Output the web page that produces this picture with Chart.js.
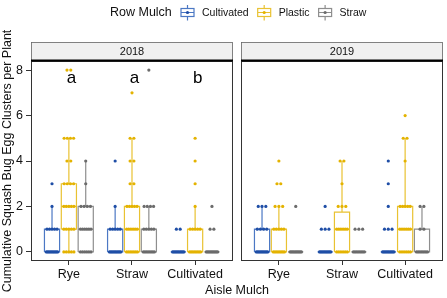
<!DOCTYPE html>
<html>
<head>
<meta charset="utf-8">
<script src="https://cdn.jsdelivr.net/npm/chart.js@4.4.1/dist/chart.umd.min.js"></script>
<style>
  html, body { margin: 0; padding: 0; background: #fff; }
</style>
</head>
<body>
<canvas id="chart" width="447" height="298"></canvas>
<script>
const years = ['2018', '2019'];
const aisleMulch = ['Rye', 'Straw', 'Cultivated'];
const rowMulch = ['Cultivated', 'Plastic', 'Straw'];
const yTicks = [0, 2, 4, 6, 8];
const letters2018 = ['a', 'a', 'b'];

// box stats [lower whisker, q1, median, q3, upper whisker]
// rows: aisle mulch, cols: row mulch
const box2018 = [
  [[0, 0, 0, 1, 2], [0, 1, 2, 3, 5], [0, 0, 1, 2, 4]],
  [[0, 0, 0, 1, 2], [0, 0, 1, 2, 5], [0, 0, 0, 1, 2]],
  [[0, 0, 0, 0, 0], [0, 0, 0, 1, 2], [0, 0, 0, 0, 0]]
];
const box2019 = [
  [[0, 0, 0, 1, 2], [0, 0, 0, 1, 2], [0, 0, 0, 0, 0]],
  [[0, 0, 0, 0, 0], [0, 0, 1, 1.75, 4], [0, 0, 0, 0, 0]],
  [[0, 0, 0, 0, 0], [0, 0, 1, 2, 5], [0, 0, 0, 1, 2]]
];

// number of plants at each egg cluster count (index = count 0..8)
const pts2018 = [
  [[10, 5, 1, 1], [5, 5, 5, 4, 2, 4, 0, 0, 2], [6, 6, 4, 1, 1]],
  [[10, 5, 1, 0, 1], [7, 6, 5, 2, 2, 2, 0, 1], [8, 5, 4, 0, 0, 0, 0, 0, 1]],
  [[10, 2], [8, 5, 1, 1, 1, 1], [10, 2, 1]]
];
const pts2019 = [
  [[10, 4, 3], [8, 5, 3, 2, 1], [10, 0, 1]],
  [[10, 3, 1], [6, 6, 3, 1, 2], [8, 3]],
  [[10, 3, 1, 1, 1], [6, 6, 5, 0, 1, 2, 1], [8, 2, 2]]
];

const boxes = [box2018, box2019];
const points = [pts2018, pts2019];
const boxColors = ['#4C78C4', '#E9C232', '#8E8E8E'];
const pointColors = ['#1F4EA6', '#E4B300', '#6B6B6B'];

// facet layout on one linear x axis (ggplot discrete expand of 0.6)
const panelStart = [0.4, 3.727];
const panelWidth = 3.2;
const dodge = 0.267;
const halfBox = 0.12;
const catCenter = (p, i) => panelStart[p] + 0.6 + i;
const tickPos = [];
years.forEach((y, p) => aisleMulch.forEach((c, i) => tickPos.push(catCenter(p, i))));

Chart.defaults.font.family = "'Liberation Sans', Arial, sans-serif";
Chart.defaults.color = '#111';

const datasets = [];
rowMulch.forEach((rm, j) => {
  const boxData = [];
  const ptData = [];
  years.forEach((yr, p) => {
    aisleMulch.forEach((am, i) => {
      const cx = catCenter(p, i) + (j - 1) * dodge;
      const [lo, q1, md, q3, hi] = boxes[p][i][j];
      const gap = {x: cx, y: null};
      boxData.push({x: cx - halfBox, y: q1}, {x: cx + halfBox, y: q1}, {x: cx + halfBox, y: q3},
                   {x: cx - halfBox, y: q3}, {x: cx - halfBox, y: q1}, gap);
      boxData.push({x: cx - halfBox, y: md}, {x: cx + halfBox, y: md}, gap);
      if (hi > q3) boxData.push({x: cx, y: q3}, {x: cx, y: hi}, gap);
      if (lo < q1) boxData.push({x: cx, y: lo}, {x: cx, y: q1}, gap);
      points[p][i][j].forEach((n, v) => {
        const step = Math.min(0.06, 0.2 / n);
        for (let k = 0; k < n; k++) {
          ptData.push({x: cx + (k - (n - 1) / 2) * step, y: v});
        }
      });
    });
  });
  datasets.push({
    label: rm + ' box',
    data: boxData,
    showLine: true,
    spanGaps: false,
    borderColor: boxColors[j],
    borderWidth: 1.2,
    borderJoinStyle: 'miter',
    pointRadius: 0,
    order: 2
  });
  datasets.push({
    label: rm,
    data: ptData,
    pointRadius: 1.6,
    pointBorderWidth: 0,
    pointBackgroundColor: pointColors[j],
    order: 1
  });
});

const facetPlugin = {
  id: 'facets',
  afterDatasetsDraw(chart) {
    const {ctx, chartArea, scales} = chart;
    const x = scales.x, y = scales.y;
    ctx.save();
    years.forEach((yr, p) => {
      const l = x.getPixelForValue(panelStart[p]);
      const r = x.getPixelForValue(panelStart[p] + panelWidth);
      // panel border
      ctx.strokeStyle = '#333';
      ctx.lineWidth = 1;
      ctx.strokeRect(l + 0.5, chartArea.top + 0.5, r - l - 1, chartArea.bottom - chartArea.top - 1);
      // strip
      ctx.fillStyle = '#F0F0F0';
      ctx.fillRect(l, 42, r - l, 18);
      ctx.strokeStyle = '#666';
      ctx.lineWidth = 0.8;
      ctx.strokeRect(l + 0.5, 42.5, r - l - 1, 18);
      ctx.fillStyle = '#000';
      ctx.fillRect(l, chartArea.top - 1.5, r - l, 2);
      ctx.fillStyle = '#111';
      ctx.font = "11px 'Liberation Sans', Arial, sans-serif";
      ctx.textAlign = 'center';
      ctx.textBaseline = 'middle';
      ctx.fillText(yr, (l + r) / 2, 51.5);
    });
    // significance letters (2018 panel)
    ctx.font = "17px 'Liberation Sans', Arial, sans-serif";
    ctx.fillStyle = '#000';
    ctx.textAlign = 'center';
    ctx.textBaseline = 'alphabetic';
    letters2018.forEach((t, i) => {
      ctx.fillText(t, x.getPixelForValue(catCenter(0, i) + 0.04), y.getPixelForValue(7.45));
    });
    // legend
    ctx.font = "12.5px 'Liberation Sans', Arial, sans-serif";
    ctx.textAlign = 'left';
    ctx.textBaseline = 'middle';
    ctx.fillStyle = '#111';
    ctx.fillText('Row Mulch', 110, 13);
    ctx.font = "10.5px 'Liberation Sans', Arial, sans-serif";
    let lx = 180;
    rowMulch.forEach((rm, j) => {
      const c = lx + 7.5;
      ctx.strokeStyle = boxColors[j];
      ctx.lineWidth = 1.2;
      ctx.beginPath();
      ctx.moveTo(c, 5); ctx.lineTo(c, 8.5);
      ctx.moveTo(c, 16.5); ctx.lineTo(c, 20.5);
      ctx.moveTo(lx + 1, 12.5); ctx.lineTo(lx + 14, 12.5);
      ctx.stroke();
      ctx.strokeRect(lx + 1, 8.5, 13, 8);
      ctx.fillStyle = pointColors[j];
      ctx.beginPath();
      ctx.arc(c, 12.5, 1.6, 0, Math.PI * 2);
      ctx.fill();
      ctx.fillStyle = '#111';
      ctx.fillText(rm, lx + 22, 13);
      lx += 22 + ctx.measureText(rm).width + 8;
    });
    ctx.restore();
  }
};

new Chart(document.getElementById('chart'), {
  type: 'scatter',
  data: {datasets},
  options: {
    responsive: false,
    animation: false,
    layout: {padding: {top: 61, right: 4, left: 0, bottom: 0}},
    plugins: {legend: {display: false}, tooltip: {enabled: false}},
    scales: {
      x: {
        type: 'linear',
        min: 0.4,
        max: panelStart[1] + panelWidth,
        afterBuildTicks: axis => { axis.ticks = tickPos.map(v => ({value: v})); },
        afterFit: axis => { axis.height = 37; },
        ticks: {
          autoSkip: false,
          maxRotation: 0,
          padding: 2,
          color: '#111',
          font: {size: 12.5},
          callback: (v, i) => aisleMulch[i % aisleMulch.length]
        },
        grid: {drawOnChartArea: false, drawTicks: true, tickLength: 4, color: '#333'},
        border: {display: false},
        title: {display: true, text: 'Aisle Mulch', color: '#111', font: {size: 12.5}, padding: {top: 0, bottom: 0}}
      },
      y: {
        min: -0.4,
        max: 8.4,
        afterBuildTicks: axis => { axis.ticks = yTicks.map(v => ({value: v})); },
        afterFit: axis => { axis.width = 31; },
        ticks: {padding: 3, color: '#111', font: {size: 12.5}},
        grid: {drawOnChartArea: false, drawTicks: true, tickLength: 5, color: '#333'},
        border: {display: false},
        title: {display: true, text: 'Cumulative Squash Bug Egg Clusters per Plant', color: '#111', font: {size: 12.5}, padding: {top: 0, bottom: 0}}
      }
    }
  },
  plugins: [facetPlugin]
});
</script>
</body>
</html>
